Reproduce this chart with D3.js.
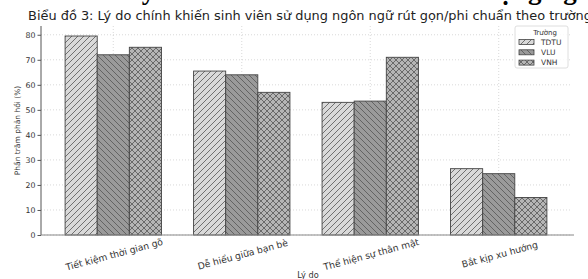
<!DOCTYPE html>
<html>
<head>
<meta charset="utf-8">
<script src="https://cdn.jsdelivr.net/npm/d3@7"></script>
<style>
  body { margin: 0; background: #fff; }
  text { font-family: "DejaVu Sans", sans-serif; }
</style>
</head>
<body>
<div id="chart"></div>
<script>
// categories and series
var reasons = ["Tiết kiệm thời gian gõ", "Dễ hiểu giữa bạn bè", "Thể hiện sự thân mật", "Bắt kịp xu hướng"];
var schools = ["TDTU", "VLU", "VNH"];
var tdtu = [79.5, 65.5, 53, 26.5];
var vlu = [72, 64, 53.5, 24.5];
var vnh = [75, 57, 71, 15];
var yTicks = [0, 10, 20, 30, 40, 50, 60, 70, 80];

var series = [tdtu, vlu, vnh];
var fills = ["#d9d9d9", "#9a9a9a", "#b5b5b5"];
var hatches = ["fwd", "back", "cross"];

var width = 588, height = 279;
var plotL = 41, plotR = 571, plotT = 26, plotB = 235;

var svg = d3.select("#chart").append("svg")
    .attr("width", width).attr("height", height);

// hatch patterns
var defs = svg.append("defs");
function addPattern(id, fill, kind) {
    var p = defs.append("pattern").attr("id", id)
        .attr("patternUnits", "userSpaceOnUse")
        .attr("width", 6).attr("height", 6);
    p.append("rect").attr("width", 6).attr("height", 6).attr("fill", fill);
    var st = function (sel) { return sel.attr("stroke", "#555").attr("stroke-width", 0.8); };
    if (kind == "fwd" || kind == "cross") {
        st(p.append("path").attr("d", "M-1,1 L1,-1 M0,6 L6,0 M5,7 L7,5"));
    }
    if (kind == "back" || kind == "cross") {
        st(p.append("path").attr("d", "M-1,5 L1,7 M0,0 L6,6 M5,-1 L7,1"));
    }
}
schools.forEach(function (s, i) { addPattern("h" + i, fills[i], hatches[i]); });

// big caption cut off at top edge
svg.append("text").attr("x", 0).attr("y", -1)
    .style("font-family", "'Liberation Serif', serif")
    .style("font-size", "27px").style("font-weight", "bold").attr("fill", "#000")
    .text("Biểu đồ 3: Lý do chính khiến sinh viên sử dụng ngôn ngữ rút gọn/phi chuẩn theo trường");

var x = d3.scaleBand().domain(reasons).range([plotL, plotR])
    .paddingInner(0.25).paddingOuter(0.1875);
var xs = d3.scaleBand().domain(schools).range([0, x.bandwidth()]);
var y = d3.scaleLinear().domain([0, 83.5]).range([plotB, plotT]);

// grid
var grid = svg.append("g");
grid.selectAll("line.h").data(yTicks).enter().append("line")
    .attr("x1", plotL).attr("x2", plotR)
    .attr("y1", function (d) { return y(d); }).attr("y2", function (d) { return y(d); })
    .attr("stroke", "#c8c8c8").attr("stroke-width", 0.7).attr("stroke-dasharray", "1,2");
grid.selectAll("line.v").data(reasons).enter().append("line")
    .attr("x1", function (d) { return x(d) + x.bandwidth() / 2; })
    .attr("x2", function (d) { return x(d) + x.bandwidth() / 2; })
    .attr("y1", plotT).attr("y2", plotB)
    .attr("stroke", "#c8c8c8").attr("stroke-width", 0.7).attr("stroke-dasharray", "1,2");

// bars
series.forEach(function (vals, j) {
    svg.append("g").selectAll("rect").data(vals).enter().append("rect")
        .attr("x", function (d, i) { return x(reasons[i]) + xs(schools[j]); })
        .attr("y", function (d) { return y(d); })
        .attr("width", xs.bandwidth())
        .attr("height", function (d) { return y(0) - y(d); })
        .attr("fill", "url(#h" + j + ")")
        .attr("stroke", "#444").attr("stroke-width", 0.9);
});

// y axis
var yAxis = svg.append("g").attr("transform", "translate(" + plotL + ",0)")
    .call(d3.axisLeft(y).tickValues(yTicks).tickSize(3.5).tickPadding(2));
yAxis.select(".domain").attr("stroke", "#555").attr("d", "M0," + plotT + "V" + plotB);
yAxis.selectAll(".tick line").attr("stroke", "#555");
yAxis.selectAll("text").style("font-size", "7.8px").attr("fill", "#333")
    .style("font-family", "'DejaVu Sans', sans-serif");

// x axis line
svg.append("line").attr("x1", plotL).attr("x2", plotR + 3)
    .attr("y1", plotB).attr("y2", plotB)
    .attr("stroke", "#888").attr("stroke-width", 1);

// x tick labels
svg.append("g").selectAll("text").data(reasons).enter().append("text")
    .attr("transform", function (d) {
        return "translate(" + (x(d) + x.bandwidth() / 2 + 1) + ",254.5) rotate(-15)";
    })
    .attr("text-anchor", "middle").attr("dy", "0.35em")
    .style("font-size", "9.2px").attr("fill", "#333")
    .text(function (d) { return d; });

// axis labels
svg.append("text").attr("x", (plotL + plotR) / 2 + 2).attr("y", 278)
    .attr("text-anchor", "middle").style("font-size", "8.2px").attr("fill", "#333")
    .text("Lý do");
svg.append("text").attr("transform", "translate(20," + (plotT + plotB) / 2 + ") rotate(-90)")
    .attr("text-anchor", "middle").style("font-size", "7.5px").attr("fill", "#333")
    .text("Phần trăm phản hồi (%)");

// title
svg.append("text").attr("x", 310).attr("y", 20)
    .attr("text-anchor", "middle").style("font-size", "12.9px").attr("fill", "#222")
    .text("Biểu đồ 3: Lý do chính khiến sinh viên sử dụng ngôn ngữ rút gọn/phi chuẩn theo trường");

// legend
var lg = svg.append("g").attr("transform", "translate(515,26)");
lg.append("rect").attr("width", 53).attr("height", 42).attr("rx", 2)
    .attr("fill", "#fff").attr("fill-opacity", 0.85)
    .attr("stroke", "#d5d5d5").attr("stroke-width", 0.8);
lg.append("text").attr("x", 30).attr("y", 9).attr("text-anchor", "middle")
    .style("font-size", "7px").attr("fill", "#333").text("Trường");
schools.forEach(function (s, i) {
    var yy = 16 + i * 10.3;
    lg.append("rect").attr("x", 4).attr("y", yy - 2.5).attr("width", 15).attr("height", 5)
        .attr("fill", "url(#h" + i + ")").attr("stroke", "#444").attr("stroke-width", 0.8);
    lg.append("text").attr("x", 26).attr("y", yy).attr("dy", "0.35em")
        .style("font-size", "7.5px").attr("fill", "#333").text(s);
});
</script>
</body>
</html>
